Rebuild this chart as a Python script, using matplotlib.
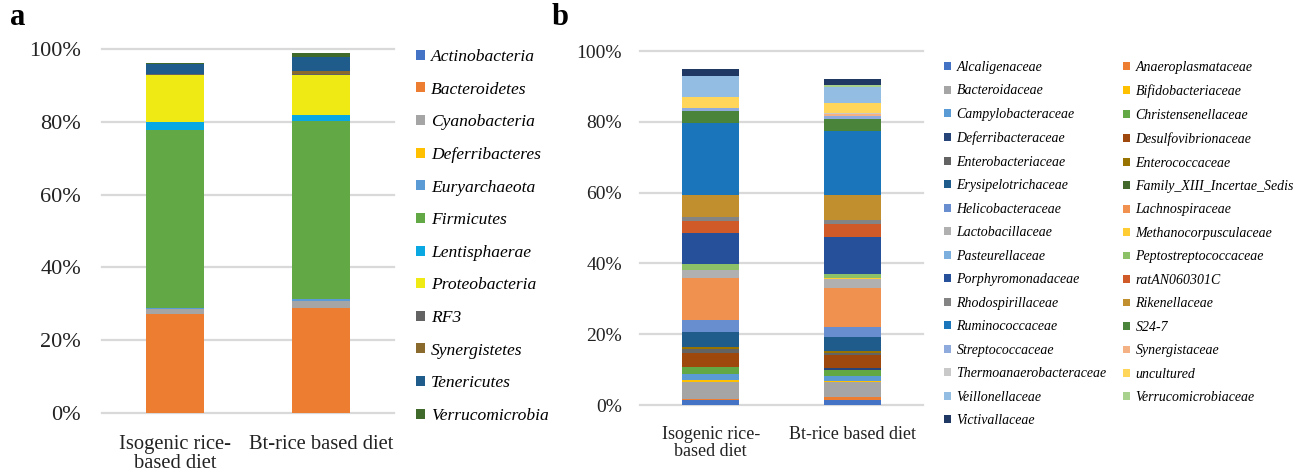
import matplotlib.pyplot as plt
import numpy as np
from matplotlib.patches import Patch
from matplotlib.ticker import PercentFormatter

plt.rcParams["font.family"] = ["Liberation Serif", "DejaVu Serif"]

diets = ["Isogenic rice-\nbased diet", "Bt-rice based diet"]

# panel a: phylum level (% relative abundance)
phyla = ["Actinobacteria", "Bacteroidetes", "Cyanobacteria", "Deferribacteres",
         "Euryarchaeota", "Firmicutes", "Lentisphaerae", "Proteobacteria",
         "RF3", "Synergistetes", "Tenericutes", "Verrucomicrobia"]
phyla_isogenic = [0.1, 27.2, 1.3, 0.05, 0.1, 48.9, 2.2, 13.1, 0.1, 0.1, 2.7, 0.4]
phyla_bt = [0.1, 28.7, 2.0, 0.05, 0.5, 49.0, 1.6, 11.0, 0.2, 0.7, 3.9, 1.1]
phyla_colors = ["#4472c4", "#ed7d31", "#a5a5a5", "#ffc000", "#5b9bd5", "#62a845",
                "#0aa8e2", "#efea14", "#636363", "#8b6a2d", "#1f5c8c", "#3f6a2c"]

# panel b: family level (% relative abundance)
families = ["Alcaligenaceae", "Anaeroplasmataceae", "Bacteroidaceae", "Bifidobacteriaceae",
            "Campylobacteraceae", "Christensenellaceae", "Deferribacteraceae",
            "Desulfovibrionaceae", "Enterobacteriaceae", "Enterococcaceae",
            "Erysipelotrichaceae", "Family_XIII_Incertae_Sedis", "Helicobacteraceae",
            "Lachnospiraceae", "Lactobacillaceae", "Methanocorpusculaceae",
            "Pasteurellaceae", "Peptostreptococcaceae", "Porphyromonadaceae",
            "ratAN060301C", "Rhodospirillaceae", "Rikenellaceae", "Ruminococcaceae",
            "S24-7", "Streptococcaceae", "Synergistaceae", "Thermoanaerobacteraceae",
            "uncultured", "Veillonellaceae", "Verrucomicrobiaceae", "Victivallaceae"]
family_isogenic = [1.4, 0.3, 4.9, 0.4, 1.7, 1.9, 0.05, 3.95, 1.2, 0.6, 4.2, 0.05, 3.25,
                   12.0, 2.1, 0.05, 0.05, 1.8, 8.6, 3.6, 1.1, 6.2, 20.2, 3.5, 0.7, 0.05,
                   0.05, 3.0, 6.0, 0.05, 2.0]
family_bt = [1.4, 0.9, 4.3, 0.3, 1.3, 1.8, 0.5, 3.6, 0.6, 0.5, 4.0, 0.05, 2.65,
             11.2, 2.4, 0.4, 0.05, 1.15, 10.3, 3.8, 1.2, 7.0, 18.1, 3.4, 0.7, 0.5,
             0.5, 2.8, 4.5, 0.4, 1.9]
family_colors = ["#4472c4", "#ed7d31", "#a5a5a5", "#ffc000", "#5b9bd5", "#62a845",
                 "#264478", "#9e480e", "#636363", "#997300", "#1f5c8c", "#43682b",
                 "#698ed0", "#f1914f", "#b0b0b0", "#ffcd33", "#7cafdd", "#8cc168",
                 "#27509a", "#d05a28", "#848484", "#c18f2e", "#1b75ba", "#4a843b",
                 "#8faadc", "#f4b183", "#c9c9c9", "#ffd65a", "#93bde3", "#a9d18e",
                 "#203864"]


def stacked_panel(ax, names, iso, bt, colors, tick_size, xlab_size, ypad, xpad):
    vals = np.array([iso, bt]) / 100.0
    x = np.arange(len(diets))
    bottom = np.zeros(len(diets))
    handles = []
    for i, (name, color) in enumerate(zip(names, colors)):
        ax.bar(x, vals[:, i], 0.4, bottom=bottom, color=color, linewidth=0, zorder=3)
        bottom += vals[:, i]
        handles.append(Patch(facecolor=color, edgecolor="none", label=name))

    ax.set_xlim(-0.5, 1.5)
    ax.set_ylim(0, 1)
    ax.set_yticks(np.arange(0, 1.01, 0.2))
    ax.yaxis.set_major_formatter(PercentFormatter(1.0, decimals=0))
    ax.set_xticks(x)
    ax.set_xticklabels(diets)
    for lbl in ax.get_xticklabels():
        lbl.set_linespacing(1.0)
    ax.grid(axis="y", color="#d9d9d9", linewidth=1.6, zorder=0)
    for gl in ax.get_ygridlines():
        gl.set_clip_on(False)
    ax.spines[["right", "top", "bottom", "left"]].set_visible(False)
    ax.tick_params(axis="y", length=0, labelsize=tick_size, pad=ypad, labelcolor="#222222")
    ax.tick_params(axis="x", length=0, labelsize=xlab_size, pad=xpad, labelcolor="#222222")
    return handles


fig = plt.figure(figsize=(12.99, 4.71), dpi=100)
W, H = 1299.0, 471.0

ax_a = fig.add_axes([102 / W, 1 - 413 / H, 292 / W, 364 / H])
ax_b = fig.add_axes([640 / W, 1 - 405 / H, 283 / W, 354 / H])

h_a = stacked_panel(ax_a, phyla, phyla_isogenic, phyla_bt, phyla_colors, 16, 14.8, 15, 15.5)
h_b = stacked_panel(ax_b, families, family_isogenic, family_bt, family_colors, 14, 13, 13, 15)

leg_kw = dict(frameon=False, borderpad=0, borderaxespad=0, handlelength=0.5,
              handleheight=0.5, bbox_transform=fig.transFigure, loc="upper left")

fig.legend(handles=h_a, bbox_to_anchor=(416 / W, 1 - 49 / H),
           prop=dict(style="italic", size=12.6), labelspacing=0.95,
           handletextpad=0.35, **leg_kw)

# panel b legend filled row by row in two columns
fig.legend(handles=h_b[0::2], bbox_to_anchor=(944 / W, 1 - 61 / H),
           prop=dict(style="italic", size=10), labelspacing=0.755,
           handletextpad=0.4, **leg_kw)
fig.legend(handles=h_b[1::2], bbox_to_anchor=(1123 / W, 1 - 61 / H),
           prop=dict(style="italic", size=10), labelspacing=0.755,
           handletextpad=0.4, **leg_kw)

fig.text(10 / W, 1 - 25 / H, "a", fontsize=22, fontweight="bold", va="baseline")
fig.text(552 / W, 1 - 25 / H, "b", fontsize=22, fontweight="bold", va="baseline")

fig.savefig("out.png", dpi=100)
plt.close(fig)
